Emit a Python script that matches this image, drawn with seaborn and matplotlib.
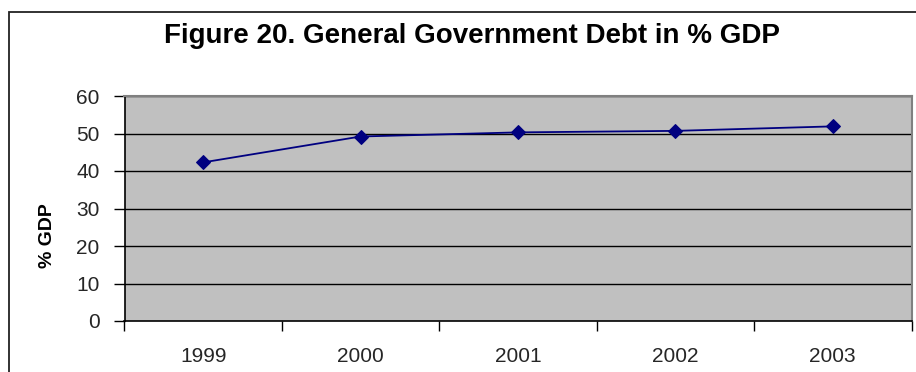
import matplotlib
matplotlib.use("Agg")
import matplotlib.pyplot as plt
import seaborn as sns
import pandas as pd
from matplotlib.patches import Rectangle
from matplotlib.ticker import FixedLocator, NullFormatter

years = ["1999", "2000", "2001", "2002", "2003"]
debt = [42.3, 49.2, 50.3, 50.7, 51.9]
y_ticks = [0, 10, 20, 30, 40, 50, 60]
title = "Figure 20. General Government Debt in % GDP"
y_label = "% GDP"

sns.set_theme(style="white")
plt.rcParams["font.family"] = ["Liberation Sans", "DejaVu Sans"]

df = pd.DataFrame({"year": years, "debt": debt})
df["pos"] = range(len(years))

W, H = 916, 372
fig = plt.figure(figsize=(W / 100, H / 100), dpi=100)
fig.patch.set_facecolor("white")

left, right, bottom, top = 124.5, 911.5, 321, 96
ax = fig.add_axes([left / W, (H - bottom) / H, (right - left) / W, (bottom - top) / H])
ax.set_facecolor("#C0C0C0")

for yv in y_ticks[1:]:
    ax.axhline(yv, color="black", lw=1.0, zorder=1)

sns.lineplot(data=df, x="pos", y="debt", ax=ax, color="#000080", lw=1.3,
             marker="D", markersize=7, markeredgecolor="#000080", zorder=3)

ax.set_xlim(-0.5, len(years) - 0.5)
ax.set_ylim(0, 60)
ax.set_yticks(y_ticks)
ax.set_yticklabels([str(v) for v in y_ticks], fontsize=15)
ax.xaxis.set_major_locator(FixedLocator([i - 0.5 for i in range(len(years) + 1)]))
ax.xaxis.set_major_formatter(NullFormatter())
ax.xaxis.set_minor_locator(FixedLocator(list(range(len(years)))))
ax.set_xticklabels(years, minor=True, fontsize=15)
ax.tick_params(axis="x", which="minor", length=0, pad=19)
ax.tick_params(axis="x", which="major", direction="out", length=7, width=1, color="black", bottom=True)
ax.tick_params(axis="y", direction="out", length=8, width=1, color="black", left=True, pad=10)
ax.set_xlabel("")
ax.set_ylabel("")

for s in ["left", "bottom"]:
    ax.spines[s].set_color("black")
    ax.spines[s].set_linewidth(1.2)
for s in ["right", "top"]:
    ax.spines[s].set_color("#808080")
    ax.spines[s].set_linewidth(1.5)

fig.text(472 / W, (H - 36) / H, title, ha="center", va="center",
         fontsize=20, fontweight="bold", color="black")
fig.text(47 / W, (H - 236) / H, y_label, ha="center", va="center",
         rotation=90, fontsize=14, fontweight="bold", color="black")

fig.add_artist(Rectangle((9 / W, -0.1), 1.2, (H - 12) / H + 0.1,
                         transform=fig.transFigure, fill=False,
                         edgecolor="#222222", lw=1.3))

fig.savefig("out.png", dpi=100, facecolor="white")
